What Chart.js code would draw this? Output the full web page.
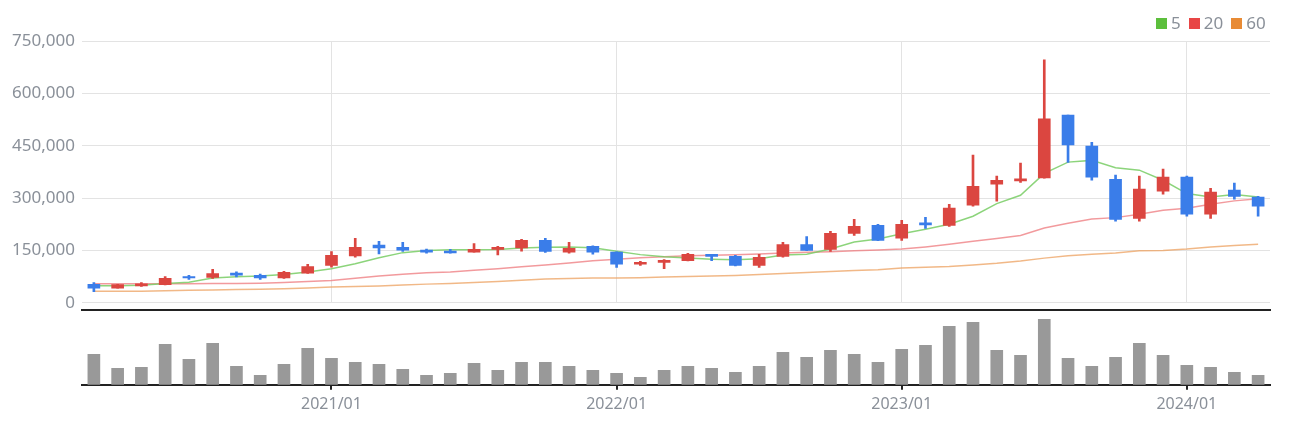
<!DOCTYPE html>
<html>
<head>
<meta charset="utf-8">
<script src="https://cdn.jsdelivr.net/npm/chart.js@4.4.1/dist/chart.umd.min.js"></script>
<style>
  body { margin: 0; background: #fff; }
  .wrap { position: relative; width: 1302px; height: 424px; font-family: 'Noto Sans', sans-serif; }
  #price { position: absolute; left: 0; top: 0; }
  #volume { position: absolute; left: 0; top: 300px; }
  .legend { position: absolute; top: 10px; left: 1156px; display: flex; align-items: center; color: #8a9099; font-size: 17px; line-height: 26px; }
  .legend span.box { display: inline-block; width: 11px; height: 11px; margin-right: 4px; }
  .legend span.txt { margin-right: 8px; }
</style>
</head>
<body>
<div class="wrap">
  <canvas id="price" width="1302" height="320"></canvas>
  <canvas id="volume" width="1302" height="124"></canvas>
  <div class="legend">
    <span class="box" style="background:#5cbf3c"></span><span class="txt">5</span>
    <span class="box" style="background:#e84545"></span><span class="txt">20</span>
    <span class="box" style="background:#e88b35"></span><span class="txt">60</span>
  </div>
</div>
<script>
const labels = [
  '2020/03','2020/04','2020/05','2020/06','2020/07','2020/08','2020/09','2020/10','2020/11','2020/12',
  '2021/01','2021/02','2021/03','2021/04','2021/05','2021/06','2021/07','2021/08','2021/09','2021/10','2021/11','2021/12',
  '2022/01','2022/02','2022/03','2022/04','2022/05','2022/06','2022/07','2022/08','2022/09','2022/10','2022/11','2022/12',
  '2023/01','2023/02','2023/03','2023/04','2023/05','2023/06','2023/07','2023/08','2023/09','2023/10','2023/11','2023/12',
  '2024/01','2024/02','2024/03','2024/04'
];

const openPrices = [
  53000, 42000, 48000, 52000, 75000, 73000, 85000, 79000, 71000, 85000,
  107000, 134000, 165000, 159000, 151000, 148000, 145000, 153000, 157000, 179000, 145000, 162000,
  145000, 111000, 116000, 121000, 139000, 133000, 107000, 133000, 167000, 153000, 199000, 222000,
  185000, 229000, 222000, 280000, 340000, 349000, 358000, 538000, 449000, 354000, 242000, 320000,
  360000, 254000, 323000, 303000
];
const closePrices = [
  42000, 52000, 54000, 70000, 71000, 84000, 79000, 71000, 87000, 104000,
  136000, 159000, 157000, 151000, 145000, 143000, 153000, 159000, 179000, 147000, 156000, 145000,
  111000, 116000, 122000, 139000, 133000, 107000, 130000, 167000, 150000, 199000, 219000, 179000,
  225000, 223000, 271000, 334000, 351000, 355000, 527000, 452000, 360000, 239000, 326000, 360000,
  254000, 317000, 305000, 277000
];
const highPrices = [
  58000, 53000, 58000, 75000, 79000, 96000, 89000, 82000, 90000, 110000,
  147000, 185000, 176000, 173000, 154000, 153000, 170000, 162000, 182000, 185000, 173000, 163000,
  146000, 119000, 124000, 142000, 139000, 136000, 139000, 173000, 190000, 205000, 239000, 225000,
  236000, 245000, 282000, 423000, 363000, 400000, 696000, 538000, 460000, 366000, 363000, 383000,
  363000, 328000, 343000, 305000
];
const lowPrices = [
  32000, 42000, 47000, 51000, 67000, 70000, 74000, 67000, 70000, 84000,
  102000, 131000, 140000, 147000, 142000, 142000, 145000, 137000, 148000, 144000, 142000, 139000,
  101000, 107000, 98000, 120000, 121000, 106000, 101000, 131000, 149000, 147000, 193000, 178000,
  179000, 213000, 219000, 277000, 291000, 345000, 357000, 402000, 351000, 234000, 234000, 311000,
  248000, 242000, 297000, 248000
];

const ma5 = [
  49000, 49000, 50000, 55000, 59000, 70700, 74700, 76500, 81000, 88000,
  97700, 112000, 129000, 143700, 150000, 152000, 152000, 153000, 157000, 159000, 160000, 158000,
  148000, 138000, 132000, 128000, 125000, 123500, 126000, 137000, 139000, 154000, 174000, 183000,
  198000, 211000, 225000, 248000, 284000, 308000, 370700, 403000, 408000, 387000, 380000, 351000,
  313000, 303000, 310000, 303000
];
const ma20 = [
  54600, 54600, 54600, 54600, 54800, 55000, 55000, 56000, 58000, 61000,
  64000, 70000, 76500, 81500, 86000, 88000, 93000, 97700, 103000, 108000, 114000, 120700,
  125000, 129000, 132000, 135000, 136500, 138000, 140000, 142500, 144500, 146500, 149000, 151000,
  154000, 160000, 167500, 176000, 184000, 193000, 214000, 228000, 240000, 244000, 254000, 265000,
  271000, 282000, 292000, 298000
];
const ma60 = [
  33000, 33000, 33000, 34500, 36000, 37000, 38000, 39000, 40000, 42500,
  45000, 46500, 48000, 51000, 53500, 55000, 58000, 61000, 64500, 68000, 69500, 70700,
  71300, 72000, 74000, 75600, 77000, 78500, 81000, 84000, 87000, 90000, 92500, 95000,
  99500, 101500, 104000, 108500, 113000, 119500, 128000, 135000, 139000, 142500, 149000, 150000,
  154000, 160000, 164000, 168000
];

const volumes = [
  91, 49, 52, 121, 76, 124, 55, 28, 61, 109,
  79, 67, 61, 46, 28, 34, 64, 43, 67, 67, 55, 43,
  34, 22, 43, 55, 49, 37, 55, 97, 82, 103, 91, 67,
  106, 118, 175, 187, 103, 88, 196, 79, 55, 82, 124, 88,
  58, 52, 37, 28
];

const yTicks = [0, 150000, 300000, 450000, 600000, 750000];

const UP = '#db4640';
const DOWN = '#3a7de9';
const candleColors = openPrices.map((o, i) => closePrices[i] >= o ? UP : DOWN);
const isYearStart = i => labels[i] && labels[i].endsWith('/01');
const FONT = "'Noto Sans', sans-serif";

new Chart(document.getElementById('price'), {
  type: 'bar',
  data: {
    labels: labels,
    datasets: [
      {
        type: 'line', label: '5', data: ma5,
        borderColor: 'rgba(120,205,100,0.85)', borderWidth: 1.5,
        pointRadius: 0, tension: 0, order: 3
      },
      {
        type: 'line', label: '20', data: ma20,
        borderColor: 'rgba(238,120,124,0.75)', borderWidth: 1.5,
        pointRadius: 0, tension: 0, order: 3
      },
      {
        type: 'line', label: '60', data: ma60,
        borderColor: 'rgba(236,160,95,0.75)', borderWidth: 1.5,
        pointRadius: 0, tension: 0, order: 3
      },
      {
        label: 'wick',
        data: lowPrices.map((l, i) => [l, highPrices[i]]),
        backgroundColor: candleColors,
        barThickness: 2, grouped: false, order: 2
      },
      {
        label: 'body',
        data: openPrices.map((o, i) => [o, closePrices[i]]),
        backgroundColor: candleColors,
        barThickness: 12, grouped: false, order: 1
      }
    ]
  },
  options: {
    responsive: false,
    animation: false,
    layout: { padding: { top: 41, right: 32, bottom: 0, left: 0 } },
    plugins: { legend: { display: false }, tooltip: { enabled: false } },
    scales: {
      x: {
        offset: true,
        grid: {
          offset: false,
          drawTicks: false,
          color: c => isYearStart(c.index) ? '#e3e3e3' : 'transparent'
        },
        border: { display: false },
        ticks: { display: false, autoSkip: false }
      },
      y: {
        min: 0, max: 750000,
        afterBuildTicks: s => { s.ticks = yTicks.map(v => ({ value: v })); },
        afterFit: s => { s.width = 82; },
        grid: { color: '#e3e3e3', drawTicks: false },
        border: { display: false },
        ticks: {
          padding: 7,
          color: '#8a9099',
          font: { family: FONT, size: 17 },
          callback: v => v.toLocaleString('en-US')
        }
      }
    }
  }
});

new Chart(document.getElementById('volume'), {
  type: 'bar',
  data: {
    labels: labels,
    datasets: [{
      label: 'volume',
      data: volumes,
      backgroundColor: '#999999',
      barThickness: 12
    }]
  },
  options: {
    responsive: false,
    animation: false,
    layout: { padding: { top: 2, right: 32, bottom: 4, left: 82 } },
    plugins: { legend: { display: false }, tooltip: { enabled: false } },
    scales: {
      x: {
        offset: true,
        grid: {
          offset: false,
          drawOnChartArea: false,
          tickLength: 5,
          lineWidth: 2,
          color: c => isYearStart(c.index) ? '#222' : 'transparent'
        },
        border: { display: true, color: '#222', width: 2 },
        ticks: {
          autoSkip: false, maxRotation: 0, padding: 5.5,
          color: '#8a9099',
          font: { family: FONT, size: 16 },
          callback: (v, i) => isYearStart(i) ? labels[i] : ''
        }
      },
      xTop: {
        type: 'category',
        position: 'top',
        grid: { display: false },
        ticks: { display: false },
        border: { display: true, color: '#222', width: 2 }
      },
      y: {
        display: false,
        min: 0, max: 224
      }
    }
  }
});
</script>
</body>
</html>
